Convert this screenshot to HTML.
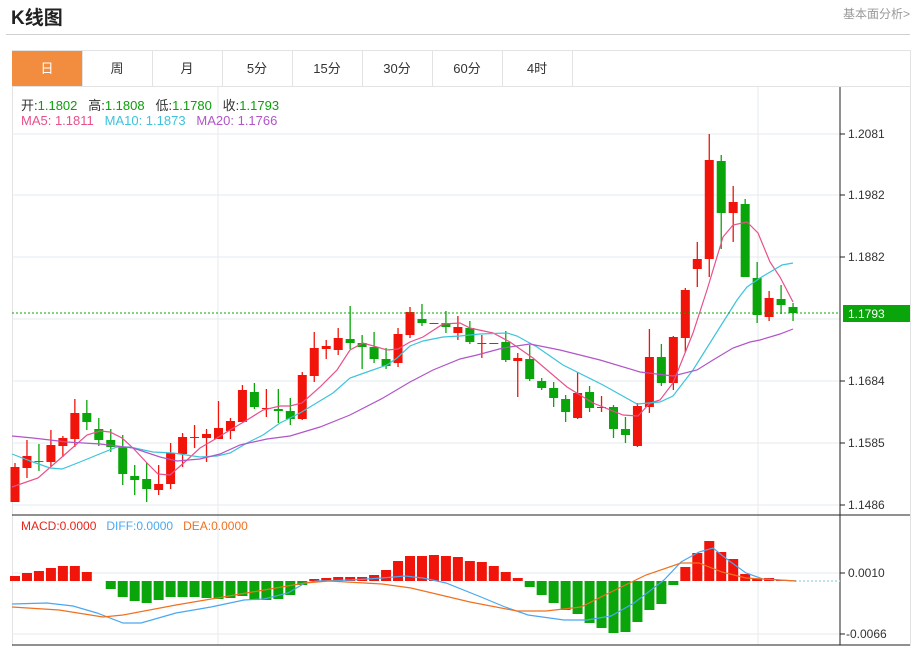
<!DOCTYPE html>
<html><head><meta charset="utf-8"><style>
body{margin:0;width:916px;height:649px;background:#fff;font-family:"Liberation Sans","Noto Sans CJK SC",sans-serif;position:relative;overflow:hidden}
.t{position:absolute;white-space:nowrap}
.tab{position:absolute;top:51px;height:35px;width:70px;line-height:35px;text-align:center;font-size:13px;color:#333;border-right:1px solid #e3e3e3}
</style></head><body>
<div class="t" style="left:11px;top:3px;font-size:19px;font-weight:bold;color:#222">K线图</div>
<div class="t" style="left:843px;top:5px;font-size:12px;color:#999">基本面分析&gt;</div>
<div style="position:absolute;left:6px;top:34px;width:904px;height:1px;background:#d0d0d0"></div>
<div style="position:absolute;left:12px;top:50px;width:897px;height:595px;border:1px solid #e3e3e3;border-bottom:none"></div>
<div style="position:absolute;left:12px;top:86px;width:898px;height:1px;background:#e3e3e3"></div>
<div class="tab" style="left:12px;background:#f28c3f;color:#fff">日</div>
<div class="tab" style="left:82px">周</div>
<div class="tab" style="left:152px">月</div>
<div class="tab" style="left:222px">5分</div>
<div class="tab" style="left:292px">15分</div>
<div class="tab" style="left:362px">30分</div>
<div class="tab" style="left:432px">60分</div>
<div class="tab" style="left:502px">4时</div>
<svg id="s" width="916" height="649" style="position:absolute;left:0;top:0" xmlns="http://www.w3.org/2000/svg"></svg>
<div class="t" style="left:21px;top:95px;font-size:13px;color:#333">开:<span style="color:#0a9f0a">1.1802</span>&nbsp;&nbsp; 高:<span style="color:#0a9f0a">1.1808</span>&nbsp;&nbsp; 低:<span style="color:#0a9f0a">1.1780</span>&nbsp;&nbsp; 收:<span style="color:#0a9f0a">1.1793</span></div>
<div class="t" style="left:21px;top:113px;font-size:13px"><span style="color:#e8508a">MA5: 1.1811</span>&nbsp;&nbsp; <span style="color:#3cc4dc">MA10: 1.1873</span>&nbsp;&nbsp; <span style="color:#b155c8">MA20: 1.1766</span></div>
<div class="t" style="left:21px;top:519px;font-size:12px"><span style="color:#e8231a">MACD:0.0000</span>&nbsp;&nbsp; <span style="color:#4aa8f0">DIFF:0.0000</span>&nbsp;&nbsp; <span style="color:#f07020">DEA:0.0000</span></div>
<script>
var s=document.getElementById('s'),h='';
function L(x1,y1,x2,y2,c,w,d){h+='<line x1="'+x1+'" y1="'+y1+'" x2="'+x2+'" y2="'+y2+'" stroke="'+c+'" stroke-width="'+(w||1)+'"'+(d?' stroke-dasharray="'+d+'"':'')+'/>';}
function R(x,y,w,hh,c){h+='<rect x="'+x+'" y="'+y+'" width="'+w+'" height="'+Math.max(hh,1)+'" fill="'+c+'"/>';}
function P(a,c,w){h+='<polyline fill="none" stroke="'+c+'" stroke-width="'+(w||1.2)+'" points="'+a.join(' ')+'"/>';}
function T(x,y,t,c,sz){h+='<text x="'+x+'" y="'+y+'" fill="'+(c||'#333')+'" font-size="'+(sz||12)+'" font-family="Liberation Sans,sans-serif">'+t+'</text>';}
// grid
[134,195,257,319,381,443,505,573,634].forEach(function(y){L(12,y,840,y,'#e6ebf0');});
L(218,87,218,645,'#e6ebf0');L(758,87,758,645,'#e6ebf0');
L(12,515,910,515,'#222');L(12,645,910,645,'#222');L(840,87,840,645,'#222');
var labs=[[134,'1.2081'],[195,'1.1982'],[257,'1.1882'],[381,'1.1684'],[443,'1.1585'],[505,'1.1486'],[573,'0.0010'],[634,'-0.0066']];
labs.forEach(function(a){L(840,a[0],845,a[0],'#222');T(a[1][0]=='-'?846:848,a[0]+4,a[1],'#333',12);});
// candles: color, bodyTop, bodyBot, wickTop, wickBot
var G='#0aa50a',Rd='#f0140a';
var c=[['r',467,502,463,502],['r',456,468,440,478],['g',461,462,444,471],['r',445,462,430,467],['r',438,446,436,457],['r',413,439,399,447],['g',413,422,400,430],['g',429,440,418,446],['g',440,447,429,452],['g',447,474,435,485],['g',476,480,465,495],['g',479,489,463,502],['r',484,490,465,495],['r',453,484,443,489],['r',437,454,433,467],['r',437,438,425,448],['r',434,438,429,462],['r',428,439,401,439],['r',421,431,418,439],['r',390,422,385,422],['g',392,407,383,409],['r',408,409,389,417],['g',409,411,389,423],['g',411,419,398,425],['r',375,419,372,420],['r',348,376,332,382],['r',346,349,340,359],['r',338,350,328,355],['g',339,343,306,349],['g',343,347,335,369],['g',347,359,332,363],['g',359,366,348,369],['r',334,363,328,367],['r',312,335,307,338],['g',319,323,304,326],['r',323,324,323,324],['g',323,327,311,333],['r',327,333,316,340],['g',328,342,321,344],['r',343,344,335,358],['r',343,344,343,344],['g',342,360,331,362],['r',358,361,353,397],['g',359,379,345,381],['g',381,388,378,390],['g',388,398,382,407],['g',399,412,395,422],['r',393,418,372,419],['g',392,408,386,412],['r',407,408,396,412],['g',407,429,405,438],['g',429,435,417,443],['r',406,446,403,447],['r',357,407,329,413],['g',357,383,344,386],['r',337,383,336,390],['r',290,338,288,352],['r',259,269,242,287],['r',160,259,134,277],['g',161,213,155,249],['r',202,213,186,242],['g',204,277,199,277],['g',278,315,262,323],['r',298,317,291,321],['g',299,305,285,314],['g',307,313,303,321]];
function X(i){return 15+i*11.97;}
c.forEach(function(k,i){var x=X(i),col=k[0]=='r'?Rd:G;L(x,k[3],x,k[4],col,1.3);R(x-4.5,k[1],9,k[2]-k[1],col);});
// MA lines
P([[12,487],[38,478],[62,457],[87,435],[100,431],[110,432],[122,438],[133,448],[147,463],[158,474],[170,475],[187,460],[200,448],[217,438],[230,430],[247,420],[263,410],[280,406],[290,406],[302,403],[320,387],[337,370],[350,350],[363,343],[377,347],[387,350],[398,349],[410,342],[423,337],[443,324],[460,323],[470,328],[493,333],[510,342],[533,358],[567,387],[593,403],[623,415],[638,416],[650,403],[660,400],[673,383],[693,333],[707,290],[723,237],[733,225],[747,222],[758,233],[770,262],[780,277],[793,302]],'#e8508a');
P([[12,454],[33,462],[50,468],[62,469],[80,462],[97,455],[117,447],[130,447],[153,452],[173,453],[200,457],[217,456],[230,453],[247,443],[263,435],[280,423],[300,413],[333,393],[350,378],[367,372],[387,365],[397,358],[410,346],[423,341],[443,337],[460,336],[480,334],[507,333],[517,336],[537,347],[563,365],[603,385],[637,404],[660,402],[673,396],[693,370],[720,327],[737,300],[747,287],[760,278],[782,265],[793,263]],'#3cc4dc');
P([[12,436],[33,438],[67,442],[100,444],[133,448],[160,457],[177,461],[200,459],[220,454],[240,445],[267,439],[290,436],[320,427],[350,415],[383,398],[410,382],[433,370],[460,359],[477,355],[503,348],[530,344],[560,350],[600,360],[640,372],[673,376],[697,370],[713,360],[733,348],[750,342],[760,340],[780,334],[793,329]],'#b155c8');
// current price
L(12,313,840,313,'#0aa50a',1,'2,2');
R(843,305,67,17,'#0aa50a');T(848,318,'1.1793','#fff',12);
// MACD bars
var m=[576,573,571,568,566,566,572,581,589,597,601,603,600,597,597,597,598,599,598,596,600,600,599,595,585,579,578,577,577,577,575,570,561,556,556,555,556,557,561,562,566,572,578,587,595,603,610,614,623,628,633,632,622,610,604,585,567,553,541,552,559,574,579,578,580,581];
m.forEach(function(y,i){var x=X(i);if(y<581)R(x-5,y,10,581-y,Rd);else if(y>581)R(x-5,581,10,y-581,G);});
L(795,581,840,581,'#a8d8e8',1.5,'2,2');
P([[12,604],[47,603],[73,606],[97,613],[123,623],[141,623],[176,613],[211,607],[244,600],[264,599],[288,593],[305,583],[317,581],[352,580],[382,578],[405,576],[423,578],[446,583],[481,597],[505,607],[528,615],[564,620],[587,620],[611,616],[634,603],[664,580],[681,562],[699,552],[713,548],[728,560],[746,573],[763,579],[796,581]],'#4aa8f0');
P([[12,607],[59,610],[103,617],[123,615],[176,605],[223,597],[264,590],[305,583],[329,581],[382,584],[411,588],[470,602],[517,611],[546,611],[581,607],[611,592],[646,575],[681,563],[699,563],[722,572],[746,578],[796,581]],'#f07020');
s.innerHTML=h;
</script>
</body></html>
